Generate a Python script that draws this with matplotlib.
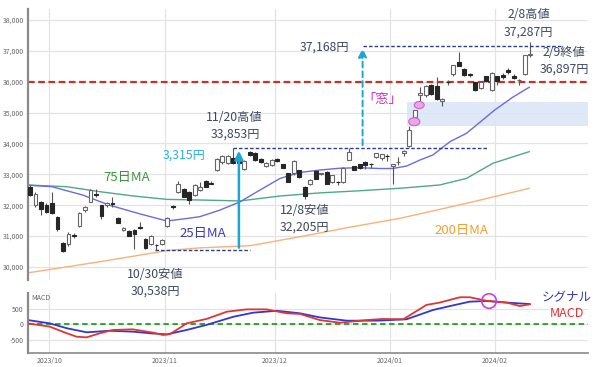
import numpy as np
import matplotlib
matplotlib.use('Agg')
import matplotlib.pyplot as plt
from matplotlib.patches import Ellipse

plt.rcParams['font.family'] = ['Noto Sans CJK JP', 'DejaVu Sans']

# ---------------- data (trading-day index 0 = 2023-09-26 ... 91 = 2024-02-09) -------------
opens = [32600, 32000, 32110, 32000, 32060, 31620, 30770, 30740, 31040, 31330,
         31840, 32110, 32370, 32000, 32000, 32080, 31590, 31200, 31170, 31190,
         31290, 30920, 30740, 30720, 30740, 31330, 31980, 32430, 32540, 32430,
         32330, 32490, 32800, 32720, 33130, 33400, 33360, 33540, 33510, 33190,
         33720, 33690, 33510, 33260, 33300, 33510, 33330, 33030, 33030, 33130,
         32590, 32680, 33110, 33000, 33080, 32750, 32760, 32750, 33480, 33260,
         33330, 33400, 33330, 33560, 33540, 33590, 33260, 33400, 33700, 33910,
         34860, 35560, 35560, 35880, 35850, 35370, 35990, 36240, 36630, 36420,
         36240, 35990, 35800, 36170, 35740, 36170, 36230, 36390, 36200, 36060,
         36260, 36870]
highs = [32650, 32420, 32150, 32060, 32430, 31640, 30800, 31120, 31090, 31790,
         31960, 32540, 32530, 32020, 32090, 32260, 31610, 31300, 31200, 31240,
         31470, 30940, 31030, 30760, 30920, 31620, 32010, 32770, 32560, 32460,
         32690, 32760, 32830, 32770, 33530, 33620, 33620, 33853, 33540, 33460,
         33760, 33710, 33530, 33400, 33500, 33530, 33350, 33050, 33460, 33150,
         32620, 32850, 33130, 33060, 33100, 32990, 32800, 33240, 33845, 33280,
         33350, 33420, 33360, 33700, 33660, 33650, 33330, 33550, 33800, 34554,
         35100, 35840, 35900, 35930, 36150, 35480, 36050, 36550, 36950, 36440,
         36280, 36000, 36000, 36200, 36300, 36200, 36280, 36450, 36250, 36100,
         36880, 37287]
lows = [32300, 31950, 31680, 31740, 31720, 31180, 30490, 30680, 30950, 31300,
        31790, 32100, 32260, 31570, 31950, 31950, 31420, 31150, 30990, 30570,
        31230, 30580, 30700, 30538, 30700, 31290, 31880, 32400, 32260, 32050,
        32290, 32450, 32580, 32680, 33100, 33330, 33330, 33350, 33300, 33150,
        33600, 33420, 33380, 33240, 33280, 33410, 33200, 32750, 32990, 32880,
        32205, 32650, 32840, 32980, 32680, 32730, 32650, 32730, 33450, 33130,
        33180, 33170, 33200, 33530, 33480, 33430, 32700, 33300, 33600, 33880,
        34690, 35250, 35520, 35560, 35420, 35200, 35900, 36200, 36500, 36200,
        36150, 35700, 35780, 36000, 35700, 35900, 36100, 36250, 36080, 35900,
        36230, 36800]
closes = [32320, 32370, 31890, 31790, 31760, 31220, 30530, 31080, 31000, 31760,
          31940, 32490, 32320, 31650, 32060, 32050, 31440, 31270, 31000, 31060,
          31270, 30600, 30990, 30700, 30870, 31600, 31950, 32700, 32280, 32170,
          32650, 32580, 32600, 32700, 33510, 33590, 33590, 33380, 33360, 33440,
          33620, 33450, 33400, 33370, 33480, 33430, 33220, 32760, 33440, 32900,
          32300, 32830, 32860, 33040, 32700, 32970, 32750, 33220, 33720, 33150,
          33220, 33290, 33320, 33690, 33650, 33580, 33320, 33400, 33760, 34450,
          35070, 35620, 35850, 35590, 35450, 35450, 35985, 36530, 36520, 36230,
          36230, 35720, 35990, 36040, 36280, 36040, 36150, 36310, 36130, 36060,
          36850, 36897]

# moving averages (position index, value)
ma25_x = [-0.4, 4, 9.6, 14.5, 20, 24.9, 28.5, 30.9, 34.5, 38.2, 41.8, 45.5, 49.1,
          52.7, 56.4, 60, 63.6, 66, 68.5, 71, 73.3, 76.4, 79.4, 84.5, 87.9, 90.8]
ma25_v = [32650, 32600, 32330, 32000, 31720, 31490, 31570, 31630, 31840, 32110,
          32490, 32870, 33060, 33140, 33200, 33215, 33190, 33190, 33270, 33470,
          33630, 34060, 34330, 35080, 35510, 35820]
ma75_x = [-0.4, 6.7, 12.7, 18.8, 24.9, 30.9, 38.2, 45.5, 52.7, 60, 67.3, 74.5,
          79.4, 84.2, 90.8]
ma75_v = [32656, 32600, 32440, 32300, 32190, 32170, 32140, 32300, 32400, 32470,
          32550, 32656, 32870, 33360, 33735]
ma200_x = [-0.4, 12.7, 24.9, 30.9, 40, 49.1, 58.2, 67.3, 79.4, 90.8]
ma200_v = [29810, 30170, 30530, 30620, 30690, 30980, 31290, 31577, 32063, 32549]

# MACD panel
macd_x = [-0.4, 3.6, 6.7, 8.5, 10.3, 12.7, 15.1, 18.7, 22.4, 24.2, 25.5, 28.5,
          32.1, 35.8, 39.4, 43, 46.7, 49.1, 52.7, 56.4, 61.2, 64.2, 67.9, 72.1,
          74.5, 78.2, 80, 83, 86.7, 89.1, 90.9]
macd_v = [30, -75, -285, -395, -415, -285, -180, -160, -265, -340, -310, 30,
          170, 400, 475, 475, 350, 330, 135, 50, 135, 170, 160, 615,
          690, 860, 860, 750, 690, 580, 635]
sig_x = [-0.4, 3.6, 6.7, 10.3, 14.5, 18.8, 21.8, 24.9, 28.5, 32.1, 37, 40.6,
         44.9, 49.1, 52.7, 57.6, 63, 68.5, 73.3, 76.4, 80, 83, 86.7, 90.9]
sig_v = [135, 30, -125, -255, -205, -235, -285, -320, -180, -20, 240, 370,
         430, 350, 220, 115, 115, 160, 455, 580, 720, 740, 690, 645]

month_pos = [3.5, 24.5, 44.5, 65.5, 84.5]
month_labels = ['2023/10', '2023/11', '2023/12', '2024/01', '2024/02']
price_ticks = [30000, 31000, 32000, 33000, 34000, 35000, 36000, 37000, 38000]
macd_ticks = [-500, 0, 500]

# ---------------- figure ----------------
fig = plt.figure(figsize=(6, 3.67), dpi=100)
ax = fig.add_axes([28/600, 1-280/367, 560/600, 271/367])
ax2 = fig.add_axes([28/600, 1-352.7/367, 560/600, 59.7/367])
ax2.patch.set_alpha(0)
ax.set_zorder(3)
ax.patch.set_alpha(0)

grid_c = '#e3e3e3'
txt_c = '#3d4862'
for a in (ax, ax2):
    a.set_xlim(-0.36, 101.5)
    for s in ('top', 'right', 'bottom'):
        a.spines[s].set_visible(False)
    a.spines['left'].set_color('#8a8a8a')
    a.spines['left'].set_linewidth(1.6)
    a.tick_params(length=0, labelsize=5, labelcolor='#666666', pad=3)
    a.set_xticks(month_pos)
    for xp in month_pos:
        a.axvline(xp, color=grid_c, lw=0.9, zorder=0)

ax.set_ylim(29579, 38356)
ax.set_yticks(price_ticks)
ax.set_yticklabels([f'{v:,}' for v in price_ticks])
ax.set_xticklabels([])
for v in price_ticks:
    ax.axhline(v, color=grid_c, lw=0.9, zorder=0)

# window band
ax.axhspan(34554, 35339, xmin=(68.6+0.36)/101.86, xmax=1, color='#dce6f6', alpha=0.9, zorder=0.5, lw=0)

# MA lines
ax.plot(ma200_x, ma200_v, color='#f5b27a', lw=1.0, zorder=1)
ax.plot(ma75_x, ma75_v, color='#4fa88a', lw=1.0, zorder=1)
ax.plot(ma25_x, ma25_v, color='#6b6be0', lw=1.0, zorder=1)

# candles
idx = np.arange(len(closes))
o = np.array(opens); c = np.array(closes); h = np.array(highs); l = np.array(lows)
ax.vlines(idx, l, h, color='#555555', lw=0.8, zorder=2)
up = c >= o
ax.bar(idx[up], (c - o)[up], bottom=o[up], width=0.7, color='white',
       edgecolor='#666666', lw=0.8, zorder=3)
ax.bar(idx[~up], (o - c)[~up], bottom=c[~up], width=0.7, color='#262626',
       edgecolor='#262626', lw=0.8, zorder=3)

# red 36,000 line
ax.axhline(36000, color='#c0352b', lw=1.6, ls=(0, (3, 1.6)), zorder=2)

# dotted reference levels
dot_c = '#2c3e85'
ax.hlines(30538, 22.7, 40, color=dot_c, lw=1.0, ls=(0, (2.5, 1.5)), zorder=4)
ax.hlines(33853, 36.9, 83.3, color=dot_c, lw=1.0, ls=(0, (2.5, 1.5)), zorder=4)
ax.hlines(37168, 60.5, 96.7, color=dot_c, lw=1.0, ls=(0, (2.5, 1.5)), zorder=4)

# arrows
ax.annotate('', xy=(38, 33853), xytext=(38, 30538),
            arrowprops=dict(arrowstyle='-|>,head_width=0.25,head_length=0.5',
                            color='#1aa6d6', lw=1.8), zorder=5)
ax.annotate('', xy=(60.5, 37168), xytext=(60.5, 33853),
            arrowprops=dict(arrowstyle='-|>,head_width=0.25,head_length=0.5',
                            color='#1aa6d6', lw=1.4, ls=(0, (3, 2))), zorder=5)

# pink markers
ax.add_patch(Ellipse((69.9, 34706), 2.0, 260, facecolor='#eaa6ea', edgecolor='#d060d0', lw=0.8, zorder=6))
ax.add_patch(Ellipse((70.8, 35247), 1.8, 230, facecolor='#eaa6ea', edgecolor='#d060d0', lw=0.8, zorder=6))

# texts
fs = 8.8
ax.text(17.6, 32883, '75日MA', color='#3c963c', fontsize=9.5, ha='center', va='center')
ax.text(31.5, 31101, '25日MA', color='#3b3bb5', fontsize=9.5, ha='center', va='center')
ax.text(78.4, 31166, '200日MA', color='#f0a030', fontsize=9.5, ha='center', va='center')
ax.text(22.7, 29741, '10/30安値', color=txt_c, fontsize=fs, ha='center', va='center', clip_on=False)
ax.text(22.9, 29223, '30,538円', color=txt_c, fontsize=fs, ha='center', va='center', clip_on=False)
ax.text(50, 31814, '12/8安値', color=txt_c, fontsize=fs, ha='center', va='center')
ax.text(50, 31296, '32,205円', color=txt_c, fontsize=fs, ha='center', va='center')
ax.text(37.1, 34826, '11/20高値', color=txt_c, fontsize=fs, ha='center', va='center')
ax.text(37.3, 34308, '33,853円', color=txt_c, fontsize=fs, ha='center', va='center')
ax.text(28, 33628, '3,315円', color='#2ab2d8', fontsize=fs, ha='center', va='center')
ax.text(53.6, 37136, '37,168円', color=txt_c, fontsize=fs, ha='center', va='center')
ax.text(64, 35409, '「窓」', color='#d22fc2', fontsize=9.5, ha='center', va='center')
ax.text(90.7, 38162, '2/8高値', color=txt_c, fontsize=fs, ha='center', va='center')
ax.text(90.7, 37621, '37,287円', color=txt_c, fontsize=fs, ha='center', va='center')
ax.text(97.1, 36931, '2/9終値', color=txt_c, fontsize=fs, ha='center', va='center')
ax.text(97.3, 36413, '36,897円', color=txt_c, fontsize=fs, ha='center', va='center')

# ---------------- MACD panel ----------------
ax2.set_ylim(-903, 995)
ax2.set_yticks(macd_ticks)
ax2.set_yticklabels(['-500', '0', '500'])
ax2.set_xticklabels(month_labels)
ax2.spines['bottom'].set_visible(True)
ax2.spines['bottom'].set_color('#8a8a8a')
ax2.spines['bottom'].set_linewidth(1.2)
for v in macd_ticks:
    ax2.axhline(v, color=grid_c, lw=0.9, zorder=0)
ax2.axhline(0, color='#22a022', lw=1.3, ls=(0, (3, 2)), zorder=1)
ax2.plot(sig_x, sig_v, color='#3535d0', lw=1.3, zorder=2)
ax2.plot(macd_x, macd_v, color='#e03535', lw=1.3, zorder=3)
ax2.scatter([83.5], [740], s=110, facecolors='none', edgecolors='#d040d0', lw=1.2, zorder=4)
ax2.text(0.3, 950, 'MACD', color='#666666', fontsize=5, ha='left', va='top')
ax2.text(97.6, 836, 'シグナル', color='#3535c0', fontsize=9, ha='center', va='center', clip_on=False)
ax2.text(97.6, 328, 'MACD', color='#e03535', fontsize=9, ha='center', va='center', clip_on=False)

fig.savefig('out.png', dpi=100)
